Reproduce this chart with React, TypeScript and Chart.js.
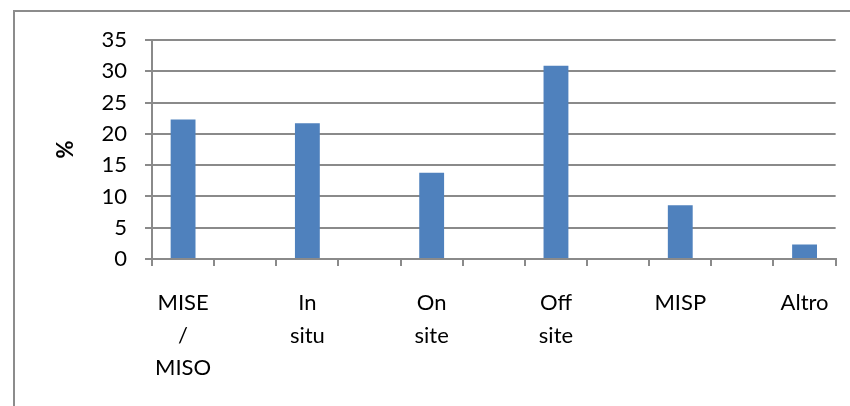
import React, { useEffect, useRef } from "react";
import { Chart, registerables } from "chart.js";

Chart.register(...registerables);

const categories: string[][] = [
  ["MISE", "/", "MISO"],
  ["In", "situ"],
  ["On", "site"],
  ["Off", "site"],
  ["MISP"],
  ["Altro"],
];
const values: number[] = [22.3, 21.7, 13.8, 30.9, 8.6, 2.3];
const yTicks: number[] = [0, 5, 10, 15, 20, 25, 30, 35];

const FONT = "Lato, 'Open Sans', sans-serif";
const GRID = "#8a8a8a";

export default function App() {
  const ref = useRef<HTMLCanvasElement | null>(null);

  useEffect(() => {
    if (!ref.current) return;
    // Excel-like layout: each category followed by an empty slot
    const labels: (string | string[])[] = [];
    const data: (number | null)[] = [];
    categories.forEach((c, i) => {
      labels.push(c);
      data.push(values[i]);
      if (i < categories.length - 1) {
        labels.push("");
        data.push(null);
      }
    });

    const chart = new Chart(ref.current, {
      type: "bar",
      data: {
        labels,
        datasets: [
          {
            data,
            backgroundColor: "#4F81BD",
            borderColor: "#7fa3cf",
            borderWidth: 0,
            categoryPercentage: 1,
            barPercentage: 0.4,
          },
        ],
      },
      options: {
        responsive: false,
        animation: false,
        layout: { padding: { left: 0, right: 10, top: 40, bottom: 0 } },
        plugins: {
          legend: { display: false },
          tooltip: { enabled: false },
        },
        scales: {
          x: {
            offset: true,
            grid: {
              display: true,
              drawOnChartArea: false,
              drawTicks: true,
              tickLength: 7,
              offset: true,
              color: GRID,
              lineWidth: 2,
            },
            border: { display: true, color: GRID, width: 2 },
            ticks: {
              autoSkip: false,
              maxRotation: 0,
              minRotation: 0,
              padding: 21,
              color: "#000",
              font: { family: FONT, size: 22, lineHeight: 1.48 },
            },
            afterFit: (scale: any) => {
              scale.height = 147;
            },
          },
          y: {
            min: 0,
            max: 35,
            afterBuildTicks: (scale: any) => {
              scale.ticks = yTicks.map((v) => ({ value: v }));
            },
            grid: {
              color: GRID,
              lineWidth: 2,
              tickLength: 7,
            },
            border: { display: true, color: GRID, width: 2 },
            ticks: {
              padding: 18,
              color: "#000",
              font: { family: FONT, size: 22 },
            },
            title: {
              display: true,
              text: "%",
              color: "#000",
              font: { family: FONT, size: 22, weight: "bold" },
              padding: { top: 53, bottom: 0 },
            },
            afterFit: (scale: any) => {
              scale.width = 152;
            },
          },
        },
      },
    });
    return () => chart.destroy();
  }, []);

  return (
    <div
      style={{
        position: "absolute",
        left: 0,
        top: 0,
        width: 850,
        height: 406,
        overflow: "hidden",
        background: "#fff",
      }}
    >
      <div
        style={{
          position: "absolute",
          left: 13,
          top: 10,
          width: 860,
          height: 420,
          border: "2px solid #8c8c8c",
          boxSizing: "border-box",
        }}
      />
      <canvas
        ref={ref}
        width={850}
        height={406}
        style={{ position: "absolute", left: 0, top: 0, width: 850, height: 406 }}
      />
    </div>
  );
}
